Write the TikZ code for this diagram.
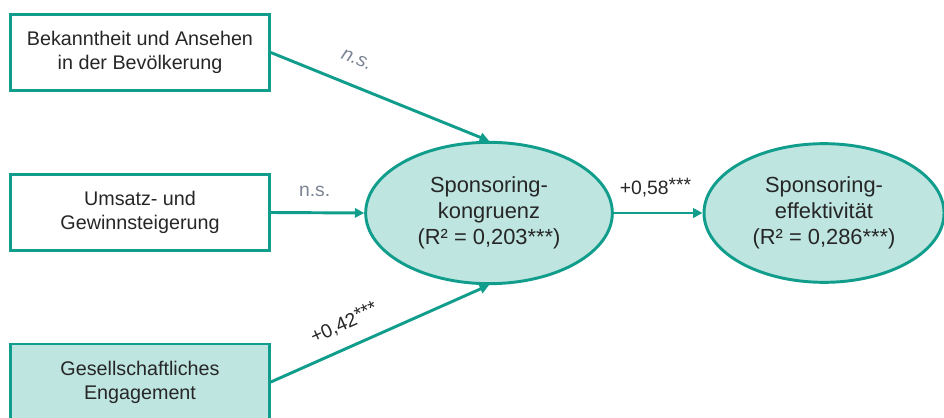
\documentclass[tikz,border=0pt]{standalone}
\usepackage{fontspec}
\setmainfont{Liberation Sans}
\usetikzlibrary{arrows.meta,shapes.geometric}
\definecolor{tealline}{RGB}{17,157,140}
\definecolor{tealfill}{RGB}{190,229,224}
\definecolor{darktext}{RGB}{38,38,38}
\definecolor{graylabel}{RGB}{122,132,148}
\newcommand{\stars}{\raisebox{1.8pt}{***}}
\begin{document}
\begin{tikzpicture}[x=0.75pt,y=-0.75pt,
  boxnode/.style={draw=tealline,line width=2.2pt,minimum width=194pt,minimum height=57pt,
    inner sep=0pt,align=center,text=darktext,font=\fontsize{14.8}{18}\selectfont},
  ellnode/.style={ellipse,draw=tealline,fill=tealfill,line width=2.2pt,inner sep=0pt,
    align=center,text=darktext,font=\fontsize{16.4}{19.5}\selectfont},
  conn/.style={draw=tealline,line width=2.2pt,-{Triangle[length=7pt,width=7pt]}},
  lbl/.style={font=\fontsize{14.5}{17}\selectfont,inner sep=0pt},
]
\useasboundingbox (0,0) rectangle (944,417);
\node[boxnode] (b1) at (140,52.5) {Bekanntheit und Ansehen\\in der Bevölkerung};
\node[boxnode] (b2) at (140,212.5) {Umsatz- und\\Gewinnsteigerung};
\node[boxnode,fill=tealfill] (b3) at (140,382) {Gesellschaftliches\\Engagement};
\node[ellnode,minimum width=185pt,minimum height=106pt] (e1) at (489,213) {Sponsoring-\\kongruenz\\(R² = 0,203***)};
\node[ellnode,minimum width=180pt,minimum height=104pt] (e2) at (824,213) {Sponsoring-\\effektivität\\(R² = 0,286***)};
\draw[conn] (b1.east) -- node[lbl,pos=0.35,sloped,above=14pt,text=graylabel,font=\fontsize{14.5}{17}\selectfont\itshape] {n.s.} (e1.north);
\draw[conn] (b2.east) -- node[lbl,pos=0.47,above=11pt,text=graylabel] {n.s.} (e1.west);
\draw[conn] (b3.east) -- node[lbl,pos=0.38,sloped,above=10pt,text=darktext] {+0,42\stars} (e1.south);
\draw[conn] (e1.east) -- node[lbl,pos=0.47,above=11pt,text=darktext] {+0,58\stars} (e2.west);
\end{tikzpicture}
\end{document}
